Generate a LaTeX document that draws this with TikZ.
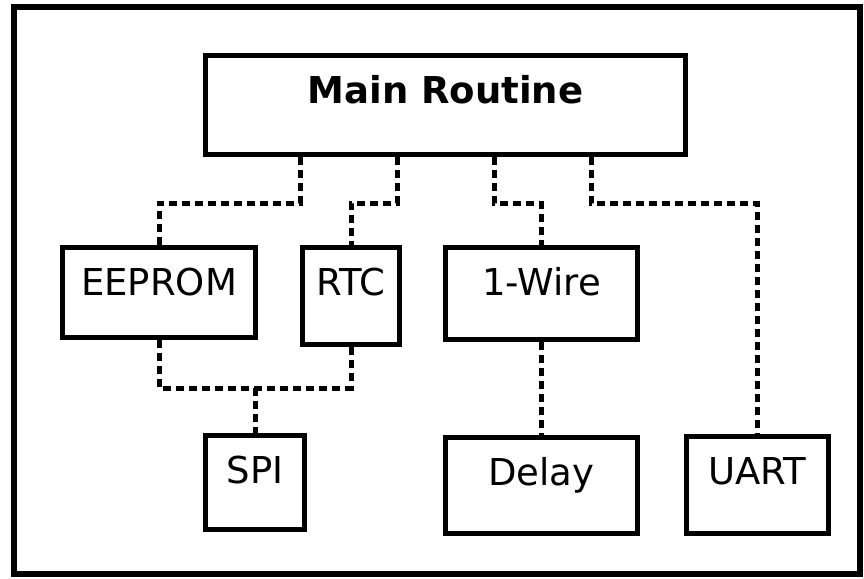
\documentclass[tikz,border=0pt]{standalone}
\usepackage{fontspec}
\setmainfont{DejaVu Sans}
\usetikzlibrary{calc}

\begin{document}
\begin{tikzpicture}[x=1pt,y=-1pt,
    module/.style={draw, line width=5pt, inner sep=0pt, anchor=north west,
      text height=48pt, font=\fontsize{37}{44}\selectfont},
    link/.style={line width=5pt, dash pattern=on 8pt off 5pt}]
  \useasboundingbox (0,0) rectangle (864,578);
  \draw [line width=5.5pt] (14,7) rectangle (860,574);
  % modules
  \node [module, minimum width=480pt, text depth=51pt,
    font=\bfseries\fontsize{37}{44}\selectfont] (main) at (203,53) {Main Routine};
  \node [module, minimum width=193pt, text depth=42pt] (eeprom) at (60,245) {EEPROM};
  \node [module, minimum width=97pt, text depth=49pt] (rtc) at (300,245) {RTC};
  \node [module, minimum width=192pt, text depth=44pt] (wire) at (443,245) {1-Wire};
  \node [module, minimum width=99pt, text depth=46pt] (spi) at (203,433) {SPI};
  \node [module, minimum width=192pt, text depth=48pt] (delay) at (443,435) {Delay};
  \node [module, minimum width=142pt, text depth=49pt] (uart) at (684,434) {UART};
  % taps on the main routine
  \coordinate (tap1) at ($(main.south west)!0.2!(main.south east)$);
  \coordinate (tap2) at ($(main.south west)!0.4!(main.south east)$);
  \coordinate (tap3) at ($(main.south west)!0.6!(main.south east)$);
  \coordinate (tap4) at ($(main.south west)!0.8!(main.south east)$);
  \coordinate (bus) at ($(spi.north)+(0,-45)$);
  % connections
  \draw [link] (tap1) -- ++(0,46) -| (eeprom.north);
  \draw [link] (tap2) -- ++(0,46) -| (rtc.north);
  \draw [link] (tap3) -- ++(0,46) -| (wire.north);
  \draw [link] (tap4) -- ++(0,46) -| (uart.north);
  \draw [link] (eeprom.south) |- (bus) -| (rtc.south);
  \draw [link] (bus) -- (spi.north);
  \draw [link] (wire.south) -- (delay.north);
\end{tikzpicture}
\end{document}
